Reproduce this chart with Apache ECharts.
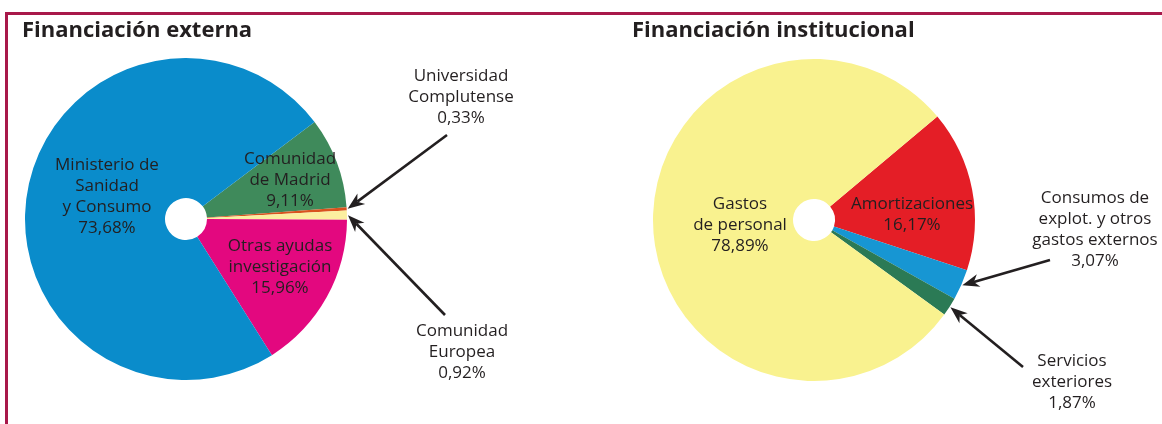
<!DOCTYPE html>
<html><head><meta charset="utf-8">
<script src="https://cdn.jsdelivr.net/npm/echarts@6/dist/echarts.min.js"></script>
<style>html,body{margin:0;padding:0;background:#fff}#c{width:1162px;height:424px}</style>
</head><body><div id="c"></div>
<script>
// ---- data ----
const chartTitles = ['Financiación externa', 'Financiación institucional'];

const extNames = ['Comunidad de Madrid', 'Universidad Complutense', 'Comunidad Europea', 'Otras ayudas investigación', 'Ministerio de Sanidad y Consumo'];
const extLabels = ['Comunidad\nde Madrid', 'Universidad\nComplutense', 'Comunidad\nEuropea', 'Otras ayudas\ninvestigación', 'Ministerio de\nSanidad\ny Consumo'];
const extValues = [9.11, 0.33, 0.92, 15.96, 73.68];

const instNames = ['Amortizaciones', 'Consumos de explot. y otros gastos externos', 'Servicios exteriores', 'Gastos de personal'];
const instLabels = ['Amortizaciones', 'Consumos de\nexplot. y otros\ngastos externos', 'Servicios\nexteriores', 'Gastos\nde personal'];
const instValues = [16.17, 3.07, 1.87, 78.89];

// ---- styles ----
const extColors = ['#3f8a5b', '#d9531e', '#fcefa0', '#e3087f', '#0a8ccb'];
const instColors = ['#e41e26', '#1796d3', '#2b7a55', '#f9f28f'];
const FONT = '"Open Sans", "Noto Sans", sans-serif';
const TEXT = '#231f20';
// label centre positions (layout only)
const extLabelPos = [[290, 180], [461, 97], [462, 352], [280, 267], [107, 197]];
const instLabelPos = [[912, 215], [1095, 230], [1072, 382], [740, 225]];
// arrows: which items get one, and where the tail sits
const extArrows = {1: [447, 135], 2: [445, 315]};
const instArrows = {1: [1050, 260], 2: [1023, 367]};

const fmt = v => v.toFixed(2).replace('.', ',') + '%';

function buildData(names, labels, values, colors) {
  return names.map((n, i) => ({
    name: n, value: values[i], lbl: labels[i],
    itemStyle: {color: colors[i]}
  }));
}

const chart = echarts.init(document.getElementById('c'), null, {renderer: 'canvas'});
const labelPos = [extLabelPos, instLabelPos];

function pieSeries(idx, center, startAngle, data) {
  return {
    type: 'pie',
    center: center,
    radius: [21, 161],
    startAngle: startAngle,
    clockwise: true,
    avoidLabelOverlap: false,
    animation: false,
    silent: true,
    data: data,
    label: {
      show: true,
      position: 'inside',
      formatter: p => p.data.lbl + '\n' + fmt(p.value),
      fontFamily: FONT,
      fontSize: 17,
      lineHeight: 21,
      color: TEXT,
      align: 'center',
      verticalAlign: 'middle'
    },
    labelLine: {show: false},
    labelLayout: function (p) {
      const pos = labelPos[idx][p.dataIndex];
      return {x: pos[0], y: pos[1], align: 'center', verticalAlign: 'middle'};
    },
    emphasis: {disabled: true}
  };
}

const titleStyle = {fontFamily: FONT, fontWeight: 'bold', fontSize: 22, color: TEXT};
const option = {
  backgroundColor: '#ffffff',
  title: [
    {text: chartTitles[0], left: 22, top: 20, padding: 0, textStyle: titleStyle},
    {text: chartTitles[1], left: 632, top: 20, padding: 0, textStyle: titleStyle}
  ],
  series: [
    pieSeries(0, [186, 219], 37, buildData(extNames, extLabels, extValues, extColors)),
    pieSeries(1, [814, 220], 40, buildData(instNames, instLabels, instValues, instColors))
  ]
};
chart.setOption(option);

// ---- arrows computed from the library's pie layout ----
function arrowGraphic(tail, tip) {
  const dx = tip[0] - tail[0], dy = tip[1] - tail[1];
  const len = Math.sqrt(dx * dx + dy * dy);
  const ux = dx / len, uy = dy / len, nx = -uy, ny = ux;
  const L = 17, W = 6.5, N = 5;
  const back = [tip[0] - ux * L, tip[1] - uy * L];
  return [
    {type: 'line', silent: true, z: 100,
     shape: {x1: tail[0], y1: tail[1], x2: tip[0] - ux * (L - N), y2: tip[1] - uy * (L - N)},
     style: {stroke: TEXT, lineWidth: 2.6}},
    {type: 'polygon', silent: true, z: 100,
     shape: {points: [tip, [back[0] + nx * W, back[1] + ny * W], [tip[0] - ux * (L - N), tip[1] - uy * (L - N)], [back[0] - nx * W, back[1] - ny * W]]},
     style: {fill: TEXT}}
  ];
}

function tipFor(seriesIndex, dataIndex) {
  const data = chart.getModel().getSeriesByIndex(seriesIndex).getData();
  const l = data.getItemLayout(dataIndex);
  const mid = (l.startAngle + l.endAngle) / 2;
  const r = l.r + 1;
  return [l.cx + r * Math.cos(mid), l.cy + r * Math.sin(mid)];
}

const graphics = [
  {type: 'line', silent: true, z: 50, shape: {x1: 5, y1: 13.5, x2: 1162, y2: 13.5}, style: {stroke: '#a8184a', lineWidth: 3}},
  {type: 'line', silent: true, z: 50, shape: {x1: 6.5, y1: 12, x2: 6.5, y2: 424}, style: {stroke: '#a8184a', lineWidth: 3}}
];
[extArrows, instArrows].forEach((arrows, si) => {
  Object.keys(arrows).forEach(k => {
    const tip = tipFor(si, +k);
    arrowGraphic(arrows[k], tip).forEach(g => graphics.push(g));
  });
});
chart.setOption({graphic: graphics});
</script>
</body></html>
